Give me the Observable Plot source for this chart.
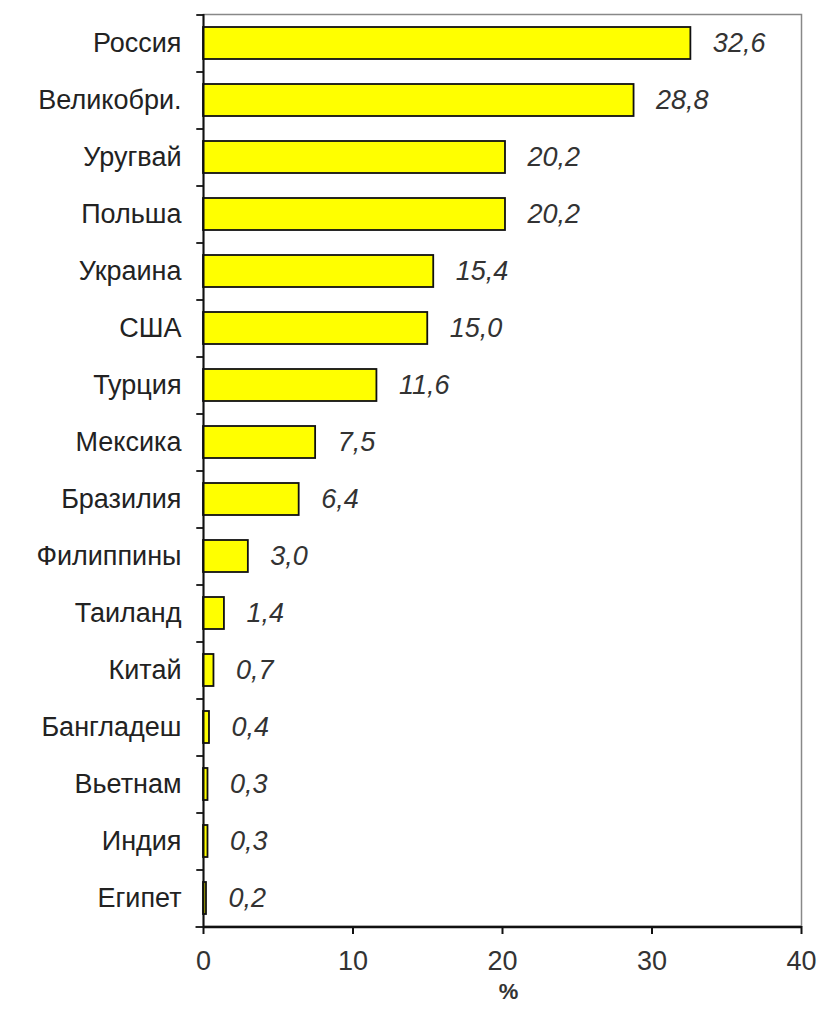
<!DOCTYPE html>
<html>
<head>
<meta charset="utf-8">
<script src="https://cdn.jsdelivr.net/npm/d3@7"></script>
<script src="https://cdn.jsdelivr.net/npm/@observablehq/plot@0.6"></script>
<style>
  body { margin: 0; background: #fff; }
  #chart svg { display: block; }
</style>
</head>
<body>
<div id="chart"></div>
<script>
const countries = ["Россия","Великобри.","Уругвай","Польша","Украина","США","Турция","Мексика","Бразилия","Филиппины","Таиланд","Китай","Бангладеш","Вьетнам","Индия","Египет"];
const values = [32.6, 28.8, 20.2, 20.2, 15.4, 15.0, 11.6, 7.5, 6.4, 3.0, 1.4, 0.7, 0.4, 0.3, 0.3, 0.2];
const xTicks = [0, 10, 20, 30, 40];
const xLabel = "%";

const data = countries.map((c, i) => ({country: c, value: values[i]}));
const fmt = v => v.toFixed(1).replace(".", ",");

const W = 819, H = 1013;
const mt = 14, mb = 87, ml = 203, mr = 18;
const step = (H - mt - mb) / countries.length;

const chart = Plot.plot({
  width: W,
  height: H,
  marginTop: mt,
  marginBottom: mb,
  marginLeft: ml,
  marginRight: mr,
  style: {fontFamily: "Liberation Sans, Arial, sans-serif", background: "#fff"},
  x: {domain: [0, 40]},
  y: {domain: countries, paddingInner: 0.44, paddingOuter: 0.22},
  marks: [
    Plot.frame({stroke: "#888", strokeWidth: 1.5}),
    Plot.barX(data, {y: "country", x: "value", fill: "#ffff00", stroke: "#111", strokeWidth: 1.8}),
    Plot.text(data, {y: "country", x: "value", text: d => fmt(d.value), dx: 22, textAnchor: "start", fontSize: 27, fontStyle: "italic", fill: "#333"}),
    Plot.ruleX([0], {stroke: "#111", strokeWidth: 2}),
    Plot.ruleY(countries, {y: d => d, x1: -0.45, x2: 0, dy: -step / 2, stroke: "#111", strokeWidth: 1.8}),
    Plot.ruleY([countries[countries.length - 1]], {y: d => d, x1: -0.5, x2: 0, dy: step / 2, stroke: "#111", strokeWidth: 1.8}),
    Plot.axisY({tickSize: 0, tickPadding: 22, fontSize: 27, fill: "#222", label: null}),
    Plot.axisX({ticks: xTicks, tickSize: 8, tickPadding: 16, fontSize: 27, fill: "#333", label: null, stroke: "#111", strokeWidth: 2}),
    Plot.ruleY([countries[countries.length - 1]], {y: d => d, x1: 0, x2: 40, dy: step / 2, stroke: "#111", strokeWidth: 2.5}),
    Plot.text([xLabel], {frameAnchor: "bottom", dx: 6, dy: 72, text: d => d, fontSize: 22, fontWeight: "bold", fill: "#333"})
  ]
});
document.getElementById("chart").appendChild(chart);
</script>
</body>
</html>
